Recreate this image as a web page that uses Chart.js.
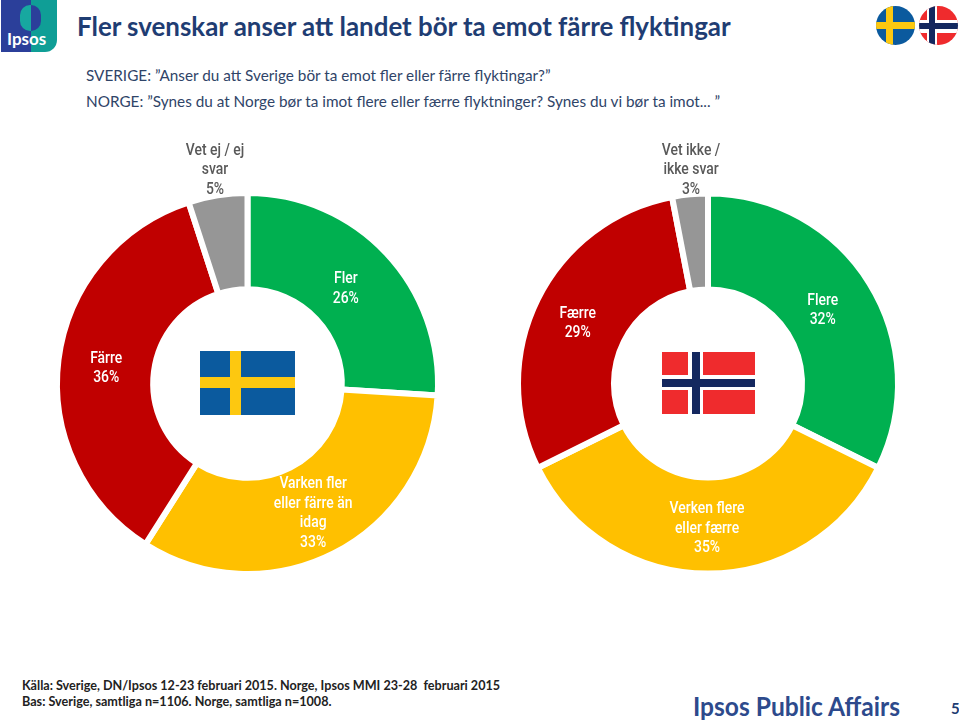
<!DOCTYPE html>
<html>
<head>
<meta charset="utf-8">
<script src="https://cdn.jsdelivr.net/npm/chart.js@4"></script>
<style>
html,body{margin:0;padding:0;background:#fff;}
body{width:959px;height:721px;position:relative;overflow:hidden;font-family:Lato,sans-serif;}
.abs{position:absolute;white-space:pre;transform-origin:left center;}
canvas{position:absolute;}
#title{left:77px;top:10px;font-size:25.9px;font-weight:700;color:#1f3d73;}
.q{left:86px;font-size:16.2px;color:#2f4468;transform:scaleX(0.945);}
.foot{left:22px;font-size:14px;font-weight:700;color:#222;transform:scaleX(0.9);}
.flag{position:absolute;overflow:hidden;}
.flag i{position:absolute;display:block;}
</style>
</head>
<body>
<div class="abs" id="logo" style="left:1px;top:0;width:56px;height:52px;background:linear-gradient(90deg,#2b3f9a 0 53%,#0f9e96 53% 100%);border-radius:0 0 12px 0;overflow:hidden;">
  <div style="position:absolute;left:19px;top:5px;width:11px;height:26px;border-radius:10px 0 0 10px;background:#17a8a0;"></div>
  <div style="position:absolute;left:30px;top:5px;width:10px;height:26px;border-radius:0 10px 10px 0;background:#2b3f9a;"></div>
  <div style="position:absolute;left:6px;top:28px;color:#fff;font:700 17px Lato,sans-serif;">Ipsos</div>
</div>
<div class="abs" id="title">Fler svenskar anser att landet bör ta emot färre flyktingar</div>
<div class="abs q" style="top:65px;">SVERIGE: ”Anser du att Sverige bör ta emot fler eller färre flyktingar?”</div>
<div class="abs q" style="top:91px;">NORGE: ”Synes du at Norge bør ta imot flere eller færre flyktninger? Synes du vi bør ta imot... ”</div>

<canvas id="se"></canvas>
<canvas id="no"></canvas>

<div class="flag" style="left:200px;top:351px;width:95px;height:64px;background:#0b5a9e;">
  <i style="left:30px;top:0;width:11px;height:64px;background:#fdc810;"></i>
  <i style="left:0;top:26px;width:95px;height:11px;background:#fdc810;"></i>
</div>
<div class="flag" style="left:662px;top:352px;width:93px;height:62px;background:#ef2b2d;">
  <i style="left:26px;top:0;width:15px;height:62px;background:#fff;"></i>
  <i style="left:0;top:23px;width:93px;height:15px;background:#fff;"></i>
  <i style="left:30px;top:0;width:8px;height:62px;background:#14285f;"></i>
  <i style="left:0;top:27px;width:93px;height:8px;background:#14285f;"></i>
</div>
<div class="flag" style="left:876px;top:6px;width:39px;height:39px;border-radius:50%;background:#0b5a9e;">
  <i style="left:10px;top:0;width:7px;height:39px;background:#fdc810;"></i>
  <i style="left:0;top:16px;width:39px;height:7px;background:#fdc810;"></i>
</div>
<div class="flag" style="left:919px;top:6px;width:39px;height:39px;border-radius:50%;background:#ef2b2d;">
  <i style="left:8px;top:0;width:10px;height:39px;background:#fff;"></i>
  <i style="left:0;top:14px;width:39px;height:13px;background:#fff;"></i>
  <i style="left:10px;top:0;width:6px;height:39px;background:#14285f;"></i>
  <i style="left:0;top:17px;width:39px;height:6px;background:#14285f;"></i>
</div>

<div class="abs foot" style="top:676px;">Källa: Sverige, DN/Ipsos 12-23 februari 2015. Norge, Ipsos MMI 23-28  februari 2015</div>
<div class="abs foot" style="top:692px;">Bas: Sverige, samtliga n=1106. Norge, samtliga n=1008.</div>
<div class="abs" style="left:693px;top:690px;font:700 26px Lato,sans-serif;color:#2d4a8c;transform:scaleX(0.945);">Ipsos Public Affairs</div>
<div class="abs" style="left:951px;top:699px;font:700 15px Lato,sans-serif;color:#1f3d73;">5</div>

<script>
const seCategories = [["Fler"],["Varken fler","eller färre än","idag"],["Färre"],["Vet ej / ej","svar"]];
const seValues = [26,33,36,5];
const noCategories = [["Flere"],["Verken flere","eller færre"],["Færre"],["Vet ikke /","ikke svar"]];
const noValues = [32,35,29,3];
const sliceColors = ["#00B050","#FFC000","#C00000","#969696"];

const labelOffsets = {
  se:[[-5.5,3],[1,3],[0,3],null],
  no:[[-6,2],[-1,3],[-3,3],null]
};
const outsideLabels = {
  se:{x:215,y:170},
  no:{x:691,y:170}
};

const labelPlugin = {
  id:"labels",
  afterDatasetsDraw(chart){
    const ctx = chart.ctx, id = chart.canvas.id;
    const meta = chart.getDatasetMeta(0);
    const cats = chart.data.labels, vals = chart.data.datasets[0].data;
    ctx.save();
    ctx.font = "500 16px Roboto, 'Liberation Sans', sans-serif";
    ctx.textAlign = "center";
    ctx.textBaseline = "middle";
    const lh = 19.5;
    meta.data.forEach((arc,i)=>{
      let cx, cy;
      const off = labelOffsets[id][i];
      if(off){
        const p = arc.getCenterPoint();
        cx = p.x + off[0]; cy = p.y + off[1];
        ctx.fillStyle = "#FFFFFF";
      } else {
        cx = outsideLabels[id].x - chart.canvas.offsetLeft;
        cy = outsideLabels[id].y - chart.canvas.offsetTop;
        ctx.fillStyle = "#595959";
      }
      const lines = cats[i].concat([vals[i]+"%"]);
      lines.forEach((t,k)=>{
        const y = cy + (k-(lines.length-1)/2)*lh;
        ctx.save();
        ctx.translate(cx,y);
        ctx.scale(0.87,1);
        ctx.fillText(t,0,0);
        ctx.restore();
      });
    });
    ctx.restore();
  }
};

function makeChart(id,left,width,cats,vals,pad){
  const el = document.getElementById(id);
  el.width = width; el.height = 510;
  el.style.left = left+"px"; el.style.top = "130px";
  el.style.width = width+"px"; el.style.height = "510px";
  return new Chart(el,{
    type:"doughnut",
    data:{labels:cats,datasets:[{data:vals,backgroundColor:sliceColors,borderColor:"#FFFFFF",borderWidth:6}]},
    options:{
      responsive:false,animation:false,cutout:"49.5%",
      layout:{padding:pad},
      plugins:{legend:{display:false},tooltip:{enabled:false}}
    },
    plugins:[labelPlugin]
  });
}
makeChart("se",0,480,seCategories,seValues,{left:54,right:39,top:60,bottom:63});
makeChart("no",480,479,noCategories,noValues,{left:35,right:58,top:60,bottom:63});
</script>
</body>
</html>
